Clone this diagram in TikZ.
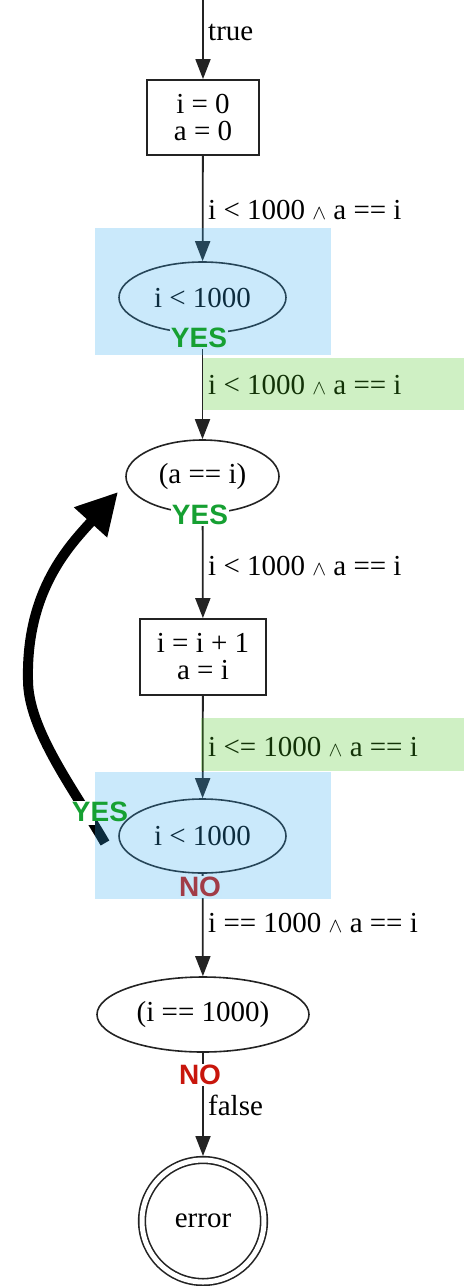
\documentclass[tikz,border=0pt]{standalone}
\usepackage{fontspec}
\setmainfont{Liberation Serif}
\newfontfamily\tagfont{Liberation Sans}
\usetikzlibrary{arrows.meta,shapes.geometric}
\definecolor{linegray}{RGB}{35,35,35}
\definecolor{yesgreen}{RGB}{22,160,50}
\definecolor{nored}{RGB}{200,22,12}
\definecolor{bluewash}{RGB}{50,170,240}
\definecolor{greenwash}{RGB}{70,197,28}
\definecolor{bluepaper}{RGB}{199,232,250}
\newcommand\andop{{\fontsize{22}{22}\selectfont$\wedge$}}

\begin{document}
\begin{tikzpicture}[x=1pt,y=-1pt,
  every node/.style={font=\fontsize{29}{27}\selectfont},
  flow/.style={draw=linegray, line width=1.8pt, -{Triangle[length=20pt,width=15pt]}},
  stmt/.style={draw=linegray, line width=1.8pt, rectangle, align=center, inner sep=0pt},
  cond/.style={draw=linegray, line width=1.6pt, ellipse, inner sep=0pt},
  guard/.style={anchor=west, inner sep=0pt},
  tag/.style={font=\tagfont\bfseries\fontsize{28}{28}\selectfont, inner sep=1pt},
  yestag/.style={tag, text=yesgreen},
  notag/.style={tag, text=nored},
  wash/.style={fill=#1, fill opacity=0.26, draw=none},
  backedge/.style={draw=black, line width=10pt, -{Triangle[length=41pt,width=42pt]}}]
\useasboundingbox (0,0) rectangle (464,1286);

% states of the program
\coordinate (entry) at (203,0);
\node[stmt, minimum width=112pt, minimum height=75pt] (init) at (203,117.5) {i = 0\\a = 0};
\node[cond, minimum width=167pt, minimum height=71pt] (loophead) at (202.5,297.5) {i {<} 1000};
\node[cond, minimum width=153pt, minimum height=73pt] (assertA) at (202.5,476.5) {(a == i)};
\node[stmt, minimum width=126pt, minimum height=76pt] (body) at (203,657) {i = i + 1\\a = i};
\node[cond, minimum width=167pt, minimum height=74pt] (looptest) at (202.5,836) {i {<} 1000};
\node[cond, minimum width=212pt, minimum height=75pt] (assertI) at (203,1014.5) {(i == 1000)};
\node[circle, draw=linegray, line width=1.6pt, double, double distance=5pt,
      minimum size=122pt, inner sep=0pt, outer sep=4pt] (err) at (203,1221) {error};

% transitions
\draw[flow] (entry) -- (init);
\draw[flow] (init) -- (loophead);
\draw[flow] (loophead) -- (assertA);
\draw[flow] (assertA) -- (body);
\draw[flow] (body) -- (looptest);
\draw[flow] (looptest) -- (assertI);
\draw[flow] (assertI) -- (err);

% edge conditions
\node[guard] (g0) at (208,32) {true};
\node[guard] (g1) at (208,210) {i {<} 1000 \andop{} a == i};
\node[guard] (g2) at (208,385) {i {<} 1000 \andop{} a == i};
\node[guard] (g3) at (208,566) {i {<} 1000 \andop{} a == i};
\node[guard] (g4) at (208,747) {i {<}= 1000 \andop{} a == i};
\node[guard] (g5) at (208,923) {i == 1000 \andop{} a == i};
\node[guard] (g6) at (208,1105) {false};

% back edge of the loop
\coordinate (backA) at (105,843);
\coordinate (backB) at (28,680);
\coordinate (backC) at (118,492);
\draw[backedge] (backA) .. controls (75,791) and (28,730) .. (backB)
                        .. controls (26,590) and (70,545) .. (backC);
\fill[white] (68,801) rectangle (95,825);

% branch outcomes
\node[yestag, fill=white] (yes2) at (200,515) {YES};
\node[notag, fill=white] (no1) at (200,887) {NO};
\node[notag, fill=white] (no2) at (200,1075) {NO};

% highlighted regions
\fill[wash=bluewash] (95,228) rectangle (331,355);
\fill[wash=bluewash] (95,772) rectangle (331,899);
\fill[wash=greenwash] (203,358) rectangle (464,410);
\fill[wash=greenwash] (201,718) rectangle (464,771);

\node[yestag, fill=bluepaper] (yes1) at (199,338) {YES};
\node[yestag] (yes3) at (100,812) {YES};
\end{tikzpicture}
\end{document}
